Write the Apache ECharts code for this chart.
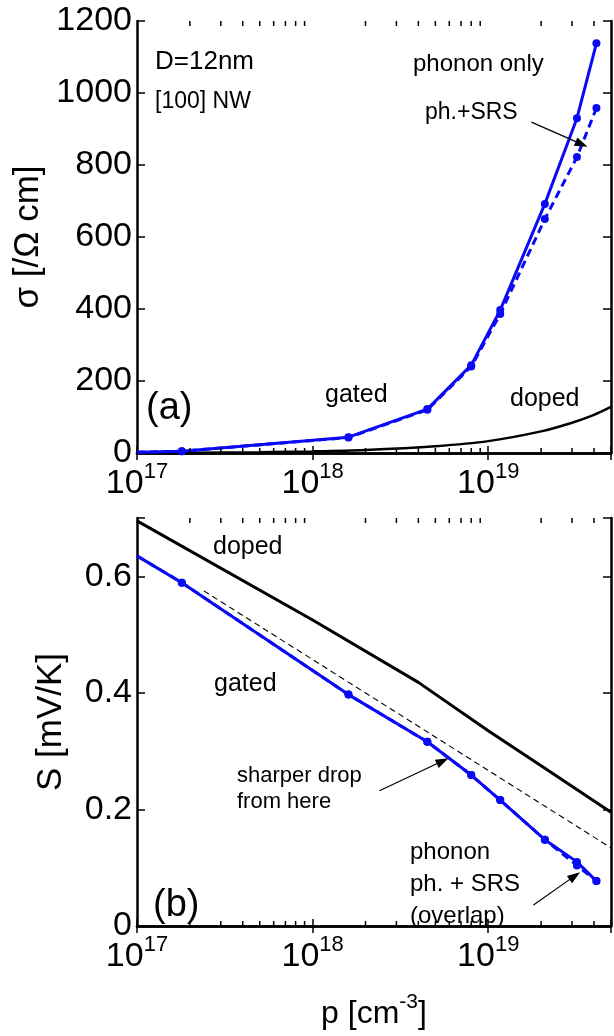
<!DOCTYPE html>
<html>
<head>
<meta charset="utf-8">
<script src="https://cdn.jsdelivr.net/npm/echarts@6/dist/echarts.min.js"></script>
<style>html,body{margin:0;padding:0;background:#fff;}#c{width:614px;height:1036px;}</style>
</head>
<body>
<div id="c"></div>
<script>
// ---------- data ----------
const pMin = 1e17, pMax = 5e19;
const sigmaMax = 1200, sigmaStep = 200;
const sMax = 0.7, sStep = 0.2;

// gated NW, concentrations where markers are drawn
const pGated = [1e17, 1.8e17, 1.6e18, 4.5e18, 8e18, 1.17e19, 2.1e19, 3.2e19, 4.13e19];
const sigmaPhonon = [2, 5, 44, 122, 244, 397, 692, 930, 1138];
const sigmaPhSRS  = [2, 5, 43, 120, 240, 386, 650, 822, 958];
const sPhonon = [0.635, 0.589, 0.397, 0.316, 0.259, 0.216, 0.148, 0.110, 0.077];
const sPhSRS  = [0.635, 0.589, 0.397, 0.316, 0.259, 0.216, 0.148, 0.104, 0.077];

// doped NW
const pDoped = [1e17, 2e17, 5e17, 1e18, 2e18, 5e18, 1e19, 2e19, 3e19, 4e19, 5e19];
const sigmaDoped = [0.5, 1, 2.3, 4.5, 8.5, 19, 33, 60, 84, 106, 128];
const pDopedS = [1e17, 1e18, 4e18, 1e19, 2e19, 5e19];
const sDoped = [0.695, 0.525, 0.418, 0.335, 0.275, 0.195];

// dashed reference line in (b)
const pRef = [2.4e17, 5e19];
const sRef = [0.575, 0.134];

// minor tick values of the log axis
const minorTicks = [2e17,3e17,4e17,5e17,6e17,7e17,8e17,9e17,
                    2e18,3e18,4e18,5e18,6e18,7e18,8e18,9e18,
                    2e19,3e19,4e19];

// annotation arrows [from, to] in data units
const arrowA  = [[1.76e19, 919], [3.4e19, 858]];
const arrowB1 = [[2.4e18, 0.232], [5.5e18, 0.283]];
const arrowB2 = [[1.81e19, 0.036], [3.11e19, 0.086]];

// ---------- chart ----------
const FONT = '"Liberation Sans", Arial, sans-serif';
const BLUE = '#0a0af5';
const chart = echarts.init(document.getElementById('c'), null, {renderer: 'canvas'});

const zip = (a, b) => a.map((v, i) => [v, b[i]]);
const gatedData = (ys) => pGated.map((p, i) => i === 0 ? {value: [p, ys[i]], symbolSize: 0} : [p, ys[i]]);

function logLabel(v) {
  const e = Math.round(Math.log10(v));
  if (Math.abs(v - Math.pow(10, e)) / v > 1e-6) return '';
  return '{b|10}{s|' + e + '}';
}

function xAxisBase(gridIndex, pos) {
  return {
    type: 'log', logBase: 10, min: pMin, max: pMax, gridIndex: gridIndex, position: pos,
    axisLine: {show: true, lineStyle: {color: '#000', width: 2.5}},
    axisTick: {show: true, inside: true, length: 7, lineStyle: {color: '#000', width: 1.5}},
    splitLine: {show: false},
    axisLabel: pos === 'bottom' ? {
      show: true, margin: 8, formatter: logLabel,
      rich: {
        b: {fontSize: 34, fontFamily: FONT, color: '#000', lineHeight: 40, verticalAlign: 'bottom'},
        s: {fontSize: 22, fontFamily: FONT, color: '#000', lineHeight: 40, verticalAlign: 'top'}
      }
    } : {show: false}
  };
}

function yAxisBase(gridIndex, pos, max, step, fmt, name, gap) {
  const ax = {
    type: 'value', min: 0, max: max, interval: step, gridIndex: gridIndex, position: pos,
    axisLine: {show: true, lineStyle: {color: '#000', width: 2.5}},
    axisTick: {show: true, inside: true, length: 8, lineStyle: {color: '#000', width: 1.5}},
    splitLine: {show: false},
    axisLabel: pos === 'left' ? {show: true, margin: 5, fontSize: 34, fontFamily: FONT, color: '#000', formatter: fmt} : {show: false}
  };
  if (name) {
    ax.name = name; ax.nameLocation = 'middle'; ax.nameGap = gap; ax.nameRotate = 90;
    ax.nameTextStyle = {fontSize: 35, fontFamily: FONT, color: '#000'};
  }
  return ax;
}

const sigmaFmt = (v) => (Math.abs(v / sigmaStep - Math.round(v / sigmaStep)) < 1e-6 ? String(v) : '');
const sFmt = (v) => {
  if (Math.abs(v / sStep - Math.round(v / sStep)) > 1e-6) return '';
  return v === 0 ? '0' : v.toFixed(1);
};

function minorTickSeries(xi, yi, yTop) {
  return {
    type: 'custom', xAxisIndex: xi, yAxisIndex: yi, silent: true, clip: false, z: 10,
    data: minorTicks.map(v => [v, 0]),
    renderItem: function (params, api) {
      const b = api.coord([api.value(0), 0]);
      const t = api.coord([api.value(0), yTop]);
      const st = {stroke: '#000', lineWidth: 1.5};
      return {type: 'group', children: [
        {type: 'line', shape: {x1: b[0], y1: b[1], x2: b[0], y2: b[1] - 5}, style: st},
        {type: 'line', shape: {x1: t[0], y1: t[1], x2: t[0], y2: t[1] + 5}, style: st}
      ]};
    }
  };
}

function arrowMark(a) {
  return {
    silent: true, animation: false,
    symbol: ['none', 'triangle'], symbolSize: [9, 13],
    label: {show: false},
    itemStyle: {color: '#000'},
    lineStyle: {color: '#000', width: 1.2, type: 'solid'},
    data: [[{coord: a[0]}, {coord: a[1]}]]
  };
}

function txt(text, left, top, size) {
  return {type: 'text', left: left, top: top, z: 100,
    style: {text: text, fontSize: size || 24, fontFamily: FONT, fill: '#000'}};
}

const option = {
  animation: false,
  backgroundColor: '#fff',
  grid: [
    {left: 137, right: -5, top: 21, height: 432},
    {left: 137, right: -5, top: 518, height: 408}
  ],
  xAxis: [
    xAxisBase(0, 'bottom'), xAxisBase(0, 'top'),
    Object.assign(xAxisBase(1, 'bottom'), {
      name: '{n|p [cm}{s|-3}{n|]}', nameLocation: 'middle', nameGap: 66,
      nameTextStyle: {rich: {
        n: {fontSize: 32, fontFamily: FONT, color: '#000', lineHeight: 38, verticalAlign: 'bottom'},
        s: {fontSize: 21, fontFamily: FONT, color: '#000', lineHeight: 38, verticalAlign: 'top'}
      }}
    }),
    xAxisBase(1, 'top')
  ],
  yAxis: [
    yAxisBase(0, 'left', sigmaMax, sigmaStep, sigmaFmt, 'σ [/Ω cm]', 80),
    yAxisBase(0, 'right', sigmaMax, sigmaStep, sigmaFmt),
    yAxisBase(1, 'left', sMax, sStep, sFmt, 'S [mV/K]', 68),
    yAxisBase(1, 'right', sMax, sStep, sFmt)
  ],
  series: [
    {type: 'line', xAxisIndex: 0, yAxisIndex: 0, data: zip(pDoped, sigmaDoped), smooth: 0.3,
      showSymbol: false, lineStyle: {color: '#000', width: 2.5}, z: 2},
    {type: 'line', xAxisIndex: 0, yAxisIndex: 0, data: gatedData(sigmaPhonon),
      symbol: 'circle', symbolSize: 8, itemStyle: {color: BLUE},
      lineStyle: {color: BLUE, width: 3}, z: 3, markLine: arrowMark(arrowA)},
    {type: 'line', xAxisIndex: 0, yAxisIndex: 0, data: gatedData(sigmaPhSRS),
      symbol: 'circle', symbolSize: 8, itemStyle: {color: BLUE},
      lineStyle: {color: BLUE, width: 3, type: [8, 5]}, z: 3},

    {type: 'line', xAxisIndex: 2, yAxisIndex: 2, data: zip(pDopedS, sDoped),
      showSymbol: false, lineStyle: {color: '#000', width: 3}, z: 2},
    {type: 'line', xAxisIndex: 2, yAxisIndex: 2, data: zip(pRef, sRef),
      showSymbol: false, lineStyle: {color: '#000', width: 1.1, type: [6, 4]}, z: 2,
      markLine: arrowMark(arrowB1)},
    {type: 'line', xAxisIndex: 2, yAxisIndex: 2, data: gatedData(sPhonon),
      symbol: 'circle', symbolSize: 8, itemStyle: {color: BLUE},
      lineStyle: {color: BLUE, width: 3}, z: 3, markLine: arrowMark(arrowB2)},
    {type: 'line', xAxisIndex: 2, yAxisIndex: 2, data: gatedData(sPhSRS),
      symbol: 'circle', symbolSize: 8, itemStyle: {color: BLUE},
      lineStyle: {color: BLUE, width: 3, type: [8, 5]}, z: 3},

    minorTickSeries(0, 0, sigmaMax),
    minorTickSeries(2, 2, sMax)
  ],
  graphic: [
    txt('D=12nm', 155, 49, 26),
    txt('[100] NW', 155, 90, 23),
    txt('phonon only', 413, 52, 24),
    txt('ph.+SRS', 425, 101, 23),
    txt('gated', 325, 383, 25),
    txt('doped', 510, 387, 25),
    txt('(a)', 146, 390, 38),
    txt('doped', 213, 535, 25),
    txt('gated', 214, 672, 25),
    txt('sharper drop', 237, 765, 22),
    txt('from here', 237, 791, 22),
    txt('phonon', 410, 840, 24),
    txt('ph. + SRS', 410, 872, 24),
    txt('(overlap)', 410, 904, 24),
    txt('(b)', 153, 887, 38)
  ]
};
chart.setOption(option);
</script>
</body>
</html>
